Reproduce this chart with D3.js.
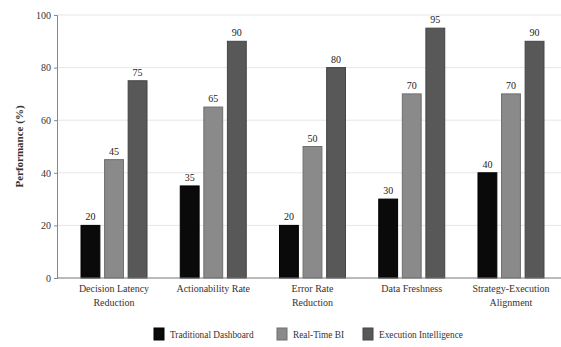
<!DOCTYPE html>
<html>
<head>
<meta charset="utf-8">
<script src="https://cdn.jsdelivr.net/npm/d3@7"></script>
<style>
  html, body { margin: 0; padding: 0; background: #fff; }
  svg { display: block; font-family: "Liberation Serif", "DejaVu Serif", serif; }
</style>
</head>
<body>
<svg id="chart" width="561" height="347"></svg>
<script>
// Metric categories (each label may wrap onto two lines)
const categories = [
  ["Decision Latency", "Reduction"],
  ["Actionability Rate"],
  ["Error Rate", "Reduction"],
  ["Data Freshness"],
  ["Strategy-Execution", "Alignment"]
];
const seriesNames = ["Traditional Dashboard", "Real-Time BI", "Execution Intelligence"];
const traditional = [20, 35, 20, 30, 40];
const realTime = [45, 65, 50, 70, 70];
const execution = [75, 90, 80, 95, 90];
const yTicks = [0, 20, 40, 60, 80, 100];
const colors = ["#0a0a0a", "#8a8a8a", "#585858"];
const strokes = ["#000", "#6e6e6e", "#444"];

const series = [traditional, realTime, execution];
const svg = d3.select("#chart");

const margin = { left: 57, top: 15, bottom: 278 };
const catKeys = categories.map(c => c.join(" "));

const x0 = d3.scaleBand().domain(catKeys).range([margin.left, 568])
  .paddingInner(0.335).paddingOuter(0.242);
const x1 = d3.scaleBand().domain(d3.range(series.length)).range([0, x0.bandwidth()])
  .paddingInner(0.2);
const y = d3.scaleLinear().domain([0, 100]).range([margin.bottom, margin.top]);

// horizontal grid
svg.append("g").selectAll("line").data(yTicks.filter(t => t > 0)).join("line")
  .attr("x1", margin.left).attr("x2", 561)
  .attr("y1", d => y(d)).attr("y2", d => y(d))
  .attr("stroke", "#e6e6e6").attr("stroke-width", 1);

// bars
const groups = svg.append("g").selectAll("g").data(catKeys).join("g")
  .attr("transform", d => `translate(${x0(d)},0)`);

groups.each(function(cat, ci) {
  const g = d3.select(this);
  series.forEach((vals, si) => {
    const v = vals[ci];
    g.append("rect")
      .attr("x", x1(si)).attr("width", x1.bandwidth())
      .attr("y", y(v)).attr("height", y(0) - y(v))
      .attr("fill", colors[si]).attr("stroke", strokes[si]).attr("stroke-width", 1);
    g.append("text")
      .attr("x", x1(si) + x1.bandwidth() / 2).attr("y", y(v) - 5)
      .attr("text-anchor", "middle").attr("font-size", 10).attr("fill", "#222")
      .text(v);
  });
});

// y axis
const yAxis = d3.axisLeft(y).tickValues(yTicks).tickSize(3).tickPadding(3);
const ya = svg.append("g").attr("transform", `translate(${margin.left},0)`).call(yAxis);
ya.select(".domain").attr("stroke", "#888");
ya.selectAll(".tick line").attr("stroke", "#888");
ya.selectAll("text").attr("font-family", "Liberation Serif, serif").attr("font-size", 10).attr("fill", "#333");

// x axis baseline
svg.append("line")
  .attr("x1", margin.left).attr("x2", 561)
  .attr("y1", y(0)).attr("y2", y(0))
  .attr("stroke", "#777").attr("stroke-width", 1);

// category labels
const catLabels = svg.append("g").selectAll("text").data(categories).join("text")
  .attr("x", (d, i) => x0(catKeys[i]) + x0.bandwidth() / 2)
  .attr("y", 292)
  .attr("text-anchor", "middle").attr("font-size", 10).attr("fill", "#333");
catLabels.selectAll("tspan").data(d => d).join("tspan")
  .attr("x", function() { return this.parentNode.getAttribute("x"); })
  .attr("dy", (d, i) => i === 0 ? 0 : 14)
  .text(d => d);

// y axis title
svg.append("text")
  .attr("transform", `translate(23,${(margin.top + margin.bottom) / 2}) rotate(-90)`)
  .attr("text-anchor", "middle").attr("font-size", 11).attr("font-weight", "bold")
  .attr("fill", "#333")
  .text("Performance (%)");

// legend
const legendX = [154, 277, 363];
const legend = svg.append("g").selectAll("g").data(seriesNames).join("g")
  .attr("transform", (d, i) => `translate(${legendX[i]},328)`);
legend.append("rect").attr("width", 10).attr("height", 12)
  .attr("fill", (d, i) => colors[i]).attr("stroke", (d, i) => strokes[i]);
legend.append("text").attr("x", 16).attr("y", 10)
  .attr("font-size", 9.3).attr("fill", "#333").text(d => d);
</script>
</body>
</html>
